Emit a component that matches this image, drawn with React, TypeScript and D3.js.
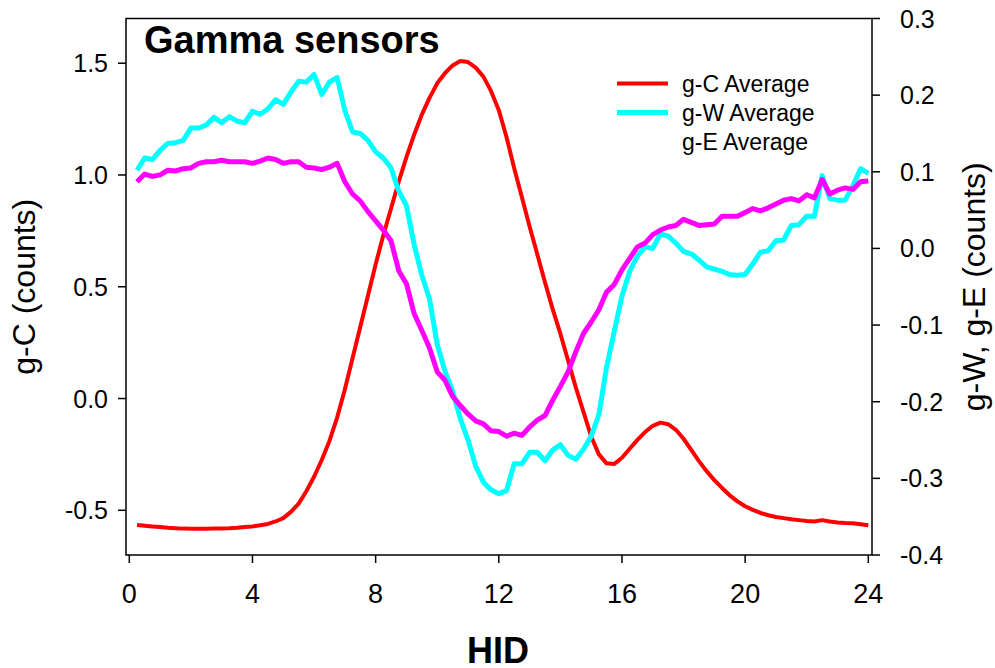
import React from "react";
import * as d3 from "d3";

const hours = [
  0.25, 0.5, 0.75, 1.0, 1.25, 1.5, 1.75, 2.0, 2.25, 2.5, 2.75, 3.0,
  3.25, 3.5, 3.75, 4.0, 4.25, 4.5, 4.75, 5.0, 5.25, 5.5, 5.75, 6.0,
  6.25, 6.5, 6.75, 7.0, 7.25, 7.5, 7.75, 8.0, 8.25, 8.5, 8.75, 9.0,
  9.25, 9.5, 9.75, 10.0, 10.25, 10.5, 10.75, 11.0, 11.25, 11.5, 11.75, 12.0,
  12.25, 12.5, 12.75, 13.0, 13.25, 13.5, 13.75, 14.0, 14.25, 14.5, 14.75, 15.0,
  15.25, 15.5, 15.75, 16.0, 16.25, 16.5, 16.75, 17.0, 17.25, 17.5, 17.75, 18.0,
  18.25, 18.5, 18.75, 19.0, 19.25, 19.5, 19.75, 20.0, 20.25, 20.5, 20.75, 21.0,
  21.25, 21.5, 21.75, 22.0, 22.25, 22.5, 22.75, 23.0, 23.25, 23.5, 23.75, 24.0,
];

const gC = [
  -0.566, -0.569, -0.572, -0.575, -0.578, -0.58, -0.582, -0.583, -0.583, -0.583, -0.582, -0.581,
  -0.58, -0.578, -0.575, -0.572, -0.567, -0.561, -0.55, -0.535, -0.507, -0.47, -0.415, -0.35,
  -0.275, -0.19, -0.085, 0.04, 0.18, 0.32, 0.46, 0.6, 0.73, 0.85, 0.97, 1.08,
  1.18, 1.27, 1.345, 1.41, 1.455, 1.49, 1.51, 1.505, 1.48, 1.44, 1.375, 1.29,
  1.17, 1.03, 0.9, 0.77, 0.645, 0.52, 0.4, 0.29, 0.17, 0.05, -0.06, -0.17,
  -0.25, -0.29, -0.293, -0.265, -0.225, -0.185, -0.15, -0.122, -0.108, -0.115, -0.14, -0.18,
  -0.23, -0.28, -0.325, -0.365, -0.4, -0.433, -0.46, -0.482, -0.498, -0.512, -0.522, -0.53,
  -0.535, -0.54, -0.544, -0.548, -0.55, -0.544, -0.55, -0.555, -0.557, -0.558, -0.562, -0.567,
];

const gW = [
  0.102, 0.118, 0.116, 0.128, 0.137, 0.138, 0.141, 0.157, 0.157, 0.161, 0.171, 0.164,
  0.172, 0.166, 0.164, 0.179, 0.175, 0.182, 0.194, 0.188, 0.204, 0.218, 0.217, 0.227,
  0.201, 0.217, 0.223, 0.18, 0.152, 0.15, 0.141, 0.126, 0.118, 0.105, 0.075, 0.056,
  0.005, -0.035, -0.066, -0.125, -0.16, -0.186, -0.222, -0.25, -0.284, -0.305, -0.315, -0.32,
  -0.316, -0.281, -0.281, -0.266, -0.266, -0.277, -0.263, -0.256, -0.27, -0.275, -0.262, -0.245,
  -0.217, -0.155, -0.108, -0.062, -0.03, -0.01, 0.002, 0.0, 0.019, 0.016, 0.007, -0.004,
  -0.007, -0.015, -0.024, -0.027, -0.03, -0.034, -0.035, -0.034, -0.02, -0.005, -0.003, 0.01,
  0.011, 0.03, 0.031, 0.042, 0.042, 0.095, 0.065, 0.063, 0.063, 0.082, 0.104, 0.098,
];

const gE = [
  0.087, 0.097, 0.094, 0.096, 0.102, 0.101, 0.104, 0.105, 0.111, 0.113, 0.113, 0.115,
  0.113, 0.113, 0.113, 0.111, 0.114, 0.118, 0.116, 0.111, 0.113, 0.113, 0.106, 0.105,
  0.103, 0.106, 0.111, 0.087, 0.071, 0.062, 0.048, 0.036, 0.024, 0.01, -0.029, -0.046,
  -0.085, -0.107, -0.13, -0.161, -0.172, -0.193, -0.205, -0.216, -0.225, -0.229, -0.238, -0.239,
  -0.245, -0.241, -0.244, -0.233, -0.224, -0.218, -0.198, -0.18, -0.161, -0.135, -0.111, -0.096,
  -0.08, -0.057, -0.047, -0.028, -0.013, 0.002, 0.007, 0.018, 0.024, 0.028, 0.03, 0.038,
  0.034, 0.03, 0.031, 0.032, 0.042, 0.042, 0.042, 0.047, 0.052, 0.049, 0.053, 0.058,
  0.063, 0.065, 0.062, 0.07, 0.066, 0.09, 0.071, 0.076, 0.079, 0.077, 0.087, 0.088,
];

const xTicks = [0, 4, 8, 12, 16, 20, 24];
const yLeftTicks = [-0.5, 0.0, 0.5, 1.0, 1.5];
const yRightTicks = [-0.4, -0.3, -0.2, -0.1, 0.0, 0.1, 0.2, 0.3];

const legendLabels = ["g-C Average", "g-W Average", "g-E Average"];
const FONT = "'Liberation Sans', Arial, Helvetica, sans-serif";

const fmt1 = (v: number) => (Math.abs(v) < 1e-9 ? 0 : v).toFixed(1);

export default function App() {
  const W = 995;
  const H = 668;
  const left = 126;
  const right = 872;
  const top = 18.5;
  const bottom = 555;

  const x = d3.scaleLinear().domain([0, 24]).range([129.3, 868.3]);
  const yL = d3.scaleLinear().domain([-0.7, 1.7]).range([bottom, top]);
  const yR = d3.scaleLinear().domain([-0.4, 0.3]).range([bottom, top]);

  const lineL = d3
    .line<number>()
    .x((_, i) => x(hours[i]))
    .y((d) => yL(d))
    .curve(d3.curveLinear);
  const lineR = d3
    .line<number>()
    .x((_, i) => x(hours[i]))
    .y((d) => yR(d))
    .curve(d3.curveLinear);

  return (
    <svg
      width={W}
      height={H}
      style={{ position: "absolute", left: 0, top: 0, background: "#fff" }}
      fontFamily={FONT}
    >
      <rect x={0} y={0} width={W} height={H} fill="#fff" />
      {/* data */}
      <path d={lineL(gC) || ""} fill="none" stroke="#ff0000" strokeWidth={4} strokeLinejoin="round" />
      <path d={lineR(gW) || ""} fill="none" stroke="#00ffff" strokeWidth={5} strokeLinejoin="round" />
      <path d={lineR(gE) || ""} fill="none" stroke="#ff00ff" strokeWidth={5} strokeLinejoin="round" />

      {/* frame */}
      <rect x={left} y={top} width={right - left} height={bottom - top} fill="none" stroke="#000" strokeWidth={1.5} />

      {/* x ticks */}
      {xTicks.map((t) => (
        <g key={"x" + t}>
          <line x1={x(t)} x2={x(t)} y1={bottom} y2={bottom + 8} stroke="#000" strokeWidth={1.5} />
          <text x={x(t)} y={603} fontSize={27} textAnchor="middle" fill="#000">
            {t}
          </text>
        </g>
      ))}

      {/* left ticks */}
      {yLeftTicks.map((t) => (
        <g key={"yl" + t}>
          <line x1={left - 8} x2={left} y1={yL(t)} y2={yL(t)} stroke="#000" strokeWidth={1.5} />
          <text x={108} y={yL(t) + 9} fontSize={25} textAnchor="end" fill="#000">
            {fmt1(t)}
          </text>
        </g>
      ))}

      {/* right ticks */}
      {yRightTicks.map((t) => (
        <g key={"yr" + t}>
          <line x1={right} x2={right + 8} y1={yR(t)} y2={yR(t)} stroke="#000" strokeWidth={1.5} />
          <text x={900} y={yR(t) + 9} fontSize={25} textAnchor="start" fill="#000">
            {fmt1(t)}
          </text>
        </g>
      ))}

      {/* axis titles */}
      <text x={498} y={663} fontSize={36} fontWeight="bold" textAnchor="middle" fill="#000">
        HID
      </text>
      <text
        transform={`translate(35, ${(top + bottom) / 2}) rotate(-90)`}
        fontSize={32}
        textAnchor="middle"
        fill="#000"
      >
        g-C (counts)
      </text>
      <text
        transform={`translate(985, ${(top + bottom) / 2}) rotate(-90)`}
        fontSize={32}
        textAnchor="middle"
        fill="#000"
      >
        g-W, g-E (counts)
      </text>

      {/* title */}
      <text x={144} y={53} fontSize={38} fontWeight="bold" fill="#000">
        Gamma sensors
      </text>

      {/* legend */}
      <line x1={617} x2={668} y1={83.5} y2={83.5} stroke="#ff0000" strokeWidth={4} />
      <line x1={617} x2={668} y1={112.5} y2={112.5} stroke="#00ffff" strokeWidth={5} />
      {legendLabels.map((l, i) => (
        <text key={l} x={682} y={92 + i * 29} fontSize={23} fill="#000">
          {l}
        </text>
      ))}
    </svg>
  );
}
